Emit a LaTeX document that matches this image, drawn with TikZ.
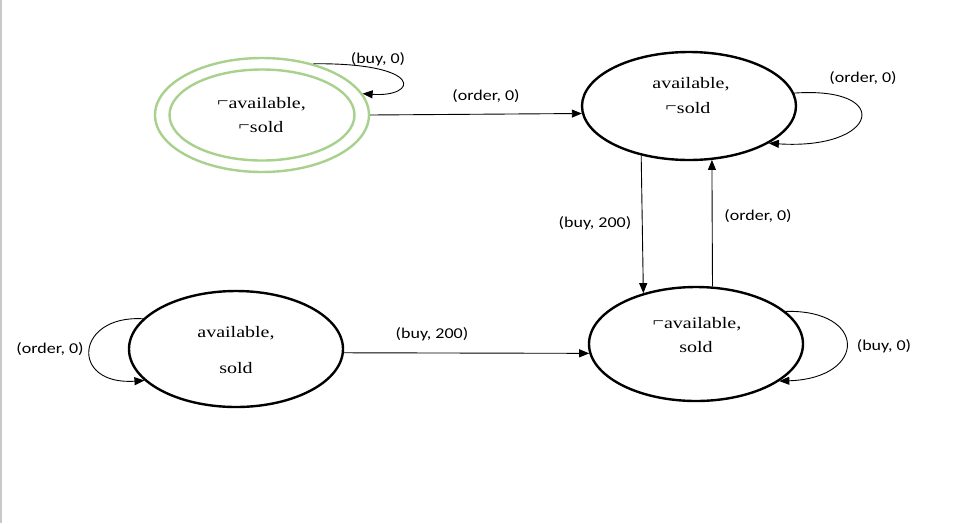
\documentclass[tikz,border=0pt]{standalone}
\usepackage{fontspec}
\usetikzlibrary{shapes.geometric,arrows.meta}
\setmainfont{Liberation Serif}
\newfontfamily\statefont{Liberation Serif}[FakeStretch=1.25]
\newfontfamily\labfont{Carlito}[FakeStretch=1.2]
\definecolor{accgreen}{RGB}{169,209,142}
\definecolor{edgegray}{RGB}{200,200,200}
\newcommand\negsym{\raisebox{0.12em}{\reflectbox{¬}}}
\begin{document}
\begin{tikzpicture}[x=1pt,y=-1pt,
  state/.style={ellipse,draw=black,line width=2.4pt,minimum width=214pt,inner sep=0pt},
  finalring/.style={ellipse,draw=accgreen,line width=2.4pt,inner sep=0pt},
  txt/.style={font=\statefont\fontsize{16}{19}\selectfont,anchor=base,inner sep=0pt},
  lab/.style={font=\labfont\fontsize{15}{18}\selectfont,inner sep=0pt},
  trans/.style={line width=0.9pt,-{Triangle[length=10pt,width=8pt]}}]
\fill[white] (0,0) rectangle (973,523);
\useasboundingbox (0,0) rectangle (973,523);
\draw[edgegray,line width=1.5pt] (1,0) -- (1,523);

% states
\node[finalring,minimum width=214pt,minimum height=114pt] (A) at (262,115) {};
\node[finalring,minimum width=185pt,minimum height=91pt] (Ain) at (262,115) {};
\node[state,minimum height=108pt] (B) at (689,106) {};
\node[state,minimum height=116pt] (C) at (236,349) {};
\node[state,minimum height=114pt] (D) at (696,344) {};

% state texts
\node[txt] (At1) at (261.5,108) {\negsym available,};
\node[txt] (At2) at (261,132) {\negsym sold};
\node[txt] (Bt1) at (691,88) {available,};
\node[txt] (Bt2) at (688,113) {\negsym sold};
\node[txt] (Ct1) at (236,337) {available,};
\node[txt] (Ct2) at (236,373) {sold};
\node[txt] (Dt1) at (697,328) {\negsym available,};
\node[txt] (Dt2) at (696,352) {sold};

% transitions
\draw[trans] (A.45) .. controls +(113,-1) and +(55,4) .. (A.12);
\draw[trans] (A.east) -- (B.184);
\draw[trans] (B.7) .. controls +(100,-7) and +(110,7) .. (B.-25);
\draw[trans] (B.-134) -- (D.136);
\draw[trans] (D.74) -- (B.-67.5);
\draw[trans] (C.162) .. controls +(-68,-4) and +(-75,5) .. (C.-161);
\draw[trans] (C.-2) -- (D.185);
\draw[trans] (D.20) .. controls +(82,-2) and +(88,-3) .. (D.-24);

% labels
\node[lab] (L1) at (378,59) {(buy, 0)};
\node[lab] (L2) at (486,96) {(order, 0)};
\node[lab] (L3) at (863,78) {(order, 0)};
\node[lab] (L4) at (595,223) {(buy, 200)};
\node[lab] (L5) at (758,216) {(order, 0)};
\node[lab] (L6) at (50,349) {(order, 0)};
\node[lab] (L7) at (432,334) {(buy, 200)};
\node[lab] (L8) at (884,346) {(buy, 0)};
\end{tikzpicture}
\end{document}
